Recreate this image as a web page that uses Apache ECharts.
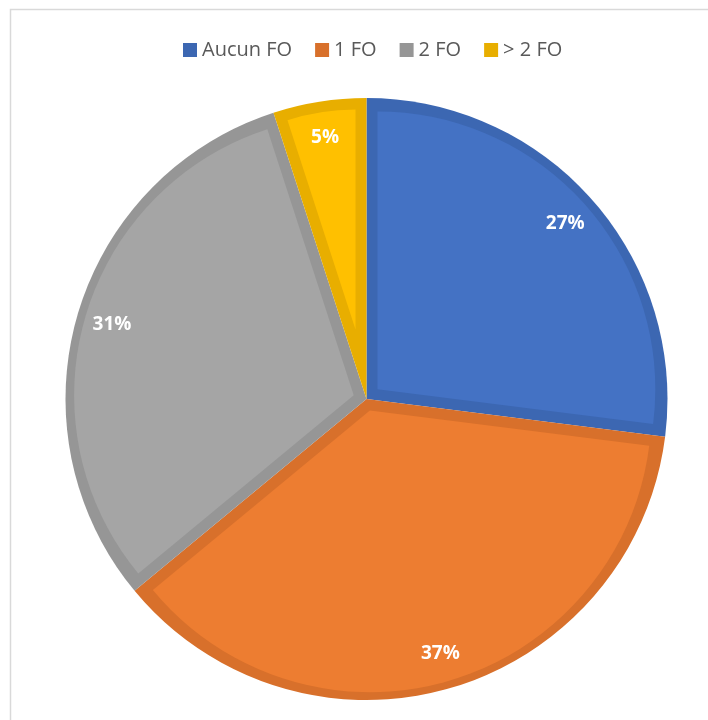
<!DOCTYPE html>
<html><head><meta charset="utf-8">
<script src="https://cdn.jsdelivr.net/npm/echarts@6/dist/echarts.min.js"></script>
<style>html,body{margin:0;padding:0;background:#fff}#c{width:708px;height:720px}</style>
</head><body><div id="c"></div>
<script>
const categories = ['Aucun FO', '1 FO', '2 FO', '> 2 FO'];
const values = [27, 37, 31, 5];
const fillColors = ['#4472C4', '#ED7D31', '#A5A5A5', '#FFC000'];
const edgeColors = ['#3C67B2', '#D8702B', '#969696', '#E8AE00'];

const chart = echarts.init(document.getElementById('c'));
const cx = 366.5, cy = 399, R = 301, band = 11;
const total = values.reduce((a, b) => a + b, 0);
const common = {
  type: 'pie', startAngle: 90, clockwise: true, silent: true,
  label: { show: false }, labelLine: { show: false },
  emphasis: { disabled: true }, animation: false,
  avoidLabelOverlap: false
};
const series = [];
series.push(Object.assign({}, common, {
  center: [cx, cy], radius: [0, R],
  data: categories.map((n, i) => ({ name: n, value: values[i], itemStyle: { color: edgeColors[i], borderWidth: 0 } }))
}));
let a0 = 90;
values.forEach((v, i) => {
  const th = 360 * v / total;
  const half = th / 2 * Math.PI / 180;
  const bis = (a0 - th / 2) * Math.PI / 180;
  const s = band / Math.sin(half);
  const rin = R - band;
  const r2 = rin - s * (1 + Math.cos(half)) / 2;
  series.push(Object.assign({}, common, {
    center: [cx + s * Math.cos(bis), cy - s * Math.sin(bis)],
    radius: [0, r2],
    data: categories.map((n, j) => ({
      name: n, value: values[j],
      itemStyle: { color: j === i ? fillColors[j] : 'rgba(0,0,0,0)', borderWidth: 0 }
    }))
  }));
  a0 -= th;
});
// labels
series.push(Object.assign({}, common, {
  center: [cx, cy], radius: [248, 276],
  label: {
    show: true, position: 'inside', color: '#fff',
    fontFamily: 'Open Sans', fontWeight: 'bold', fontSize: 19,
    formatter: p => p.value + '%'
  },
  data: categories.map((n, i) => ({ name: n, value: values[i], itemStyle: { color: 'rgba(0,0,0,0)', borderWidth: 0 } }))
}));

chart.setOption({
  backgroundColor: '#fff',
  graphic: [{
    type: 'rect', z: -10, silent: true,
    shape: { x: 10.5, y: 9.5, width: 900, height: 900 },
    style: { fill: 'none', stroke: '#D9D9D9', lineWidth: 1.5 }
  }],
  legend: {
    left: 178, top: 35,
    itemWidth: 14, itemHeight: 14, itemGap: 23,
    icon: 'rect',
    textStyle: { fontFamily: 'Open Sans', fontSize: 20, color: '#595959' },
    data: categories.map((n, i) => ({ name: n, itemStyle: { color: edgeColors[i] } }))
  },
  series: series
});
</script>
</body></html>
